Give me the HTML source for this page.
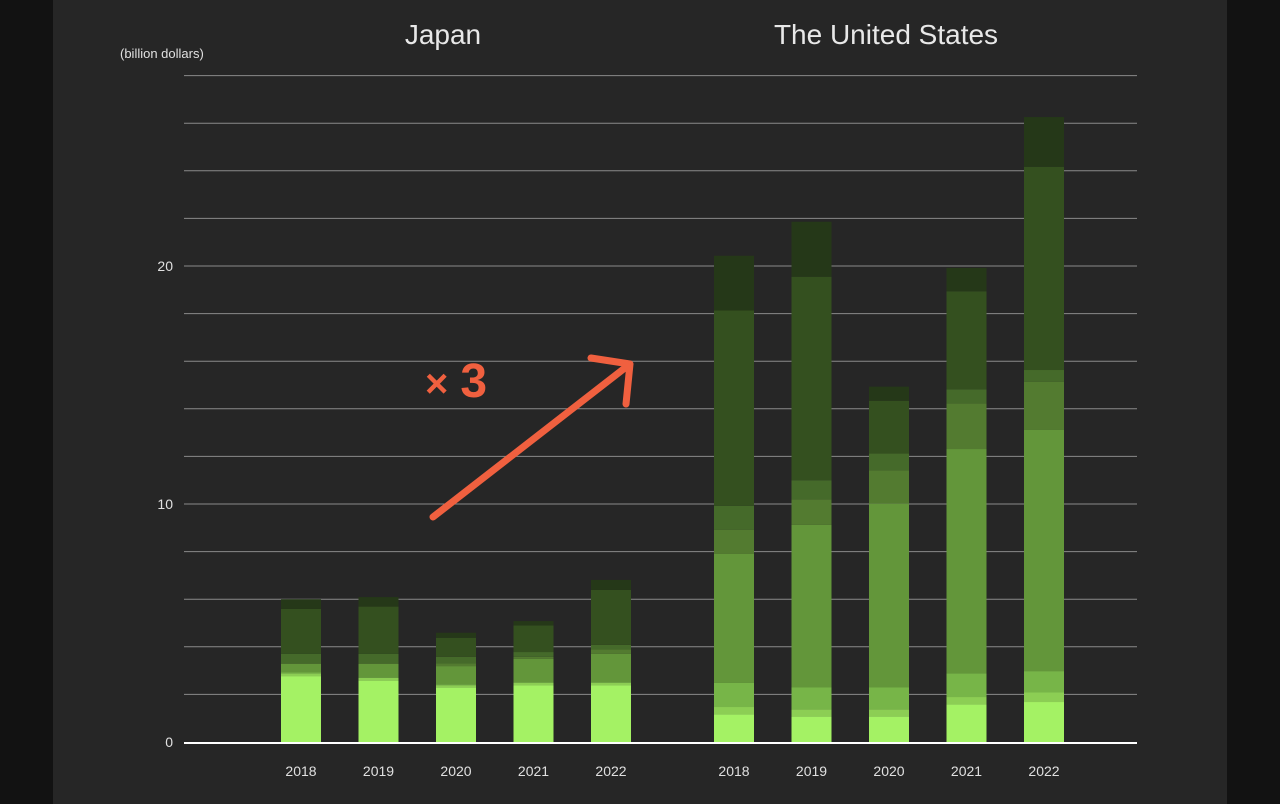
<!DOCTYPE html>
<html><head><meta charset="utf-8"><style>
body{margin:0;background:#121212;width:1280px;height:804px;overflow:hidden;font-family:"Liberation Sans",sans-serif}
#panel{position:absolute;left:53px;top:0;width:1174px;height:804px;background:#262626}
</style></head><body>
<div id="panel"></div>
<svg id="chart" width="1280" height="804" style="position:absolute;left:0;top:0"></svg>
<script>
const yTicks=[0,10,20];
const gridVals=[2,4,6,8,10,12,14,16,18,20,22,24,26,28];
const years=["2018","2019","2020","2021","2022"];
const groups=["Japan","The United States"];
const colors=["#a4f264","#8cce54","#77b548","#63963a","#537b30","#456a2a","#34501f","#253818"];
const japan=[[2.77,.12,.03,.36,.02,.40,1.89,.41],[2.58,.11,.03,.56,.02,.40,1.99,.40],[2.30,.09,.03,.77,.11,.28,.80,.21],[2.39,.10,.03,.98,.08,.20,1.12,.18],[2.39,.10,.03,1.18,.19,.19,2.31,.42]];
const usa=[[1.17,.30,1.01,5.42,1.01,1.01,8.21,2.30],[1.08,.30,.91,6.83,1.08,.80,8.55,2.31],[1.08,.30,.91,7.72,1.40,.71,2.22,.59],[1.59,.30,.99,9.43,1.92,.59,4.12,.98],[1.68,.40,.90,10.13,2.03,.49,8.54,2.09]];
const svg=document.getElementById('chart');const NS='http://www.w3.org/2000/svg';
function y(v){return 742-v*23.8;}
function gx(g,i){return (g===0?301:734)+i*77.5;}
function mk(t,a,p){const e=document.createElementNS(NS,t);for(const k in a)e.setAttribute(k,a[k]);(p||svg).appendChild(e);return e;}
gridVals.forEach(v=>{const l=mk('line',{x1:184,x2:1137,y1:y(v),y2:y(v),stroke:'#8a8a8a','stroke-width':1});

});
yTicks.forEach(v=>{const t=mk('text',{x:173,y:y(v)+5,'text-anchor':'end',fill:'#e0e0e0','font-size':14});t.textContent=v;

});
const u=mk('text',{x:120,y:58,fill:'#e0e0e0','font-size':13});u.textContent='(billion dollars)';


[japan,usa].forEach((data,g)=>{
 const tt=mk('text',{x:g===0?443:886,y:44,'text-anchor':'middle',fill:'#e8e8e8','font-size':28,'font-weight':300});tt.textContent=groups[g];
 
 
 data.forEach((segs,i)=>{let c=0;const cx=gx(g,i);
  segs.forEach((s,k)=>{const r=mk('rect',{x:cx-20,y:y(c+s),width:40,height:s*23.8,fill:colors[k]});
   
   c+=s;});
  const t=mk('text',{x:cx,y:776,'text-anchor':'middle',fill:'#e0e0e0','font-size':14});t.textContent=years[i];
  
  });
});
const b=mk('line',{x1:184,x2:1137,y1:743,y2:743,stroke:'#fff','stroke-width':2});


const a=mk('path',{d:'M433,517 L630,364 M591,358 L630,364 L626,404',fill:'none',stroke:'#f0603f','stroke-width':7,'stroke-linecap':'round','stroke-linejoin':'round'});


const x3=mk('text',{x:425,y:397,fill:'#f0603f','font-weight':'bold'});


const t1=mk('tspan',{'font-size':40},x3);t1.textContent='×';
const t2=mk('tspan',{'font-size':48,dx:12},x3);t2.textContent='3';
</script>
</body></html>
